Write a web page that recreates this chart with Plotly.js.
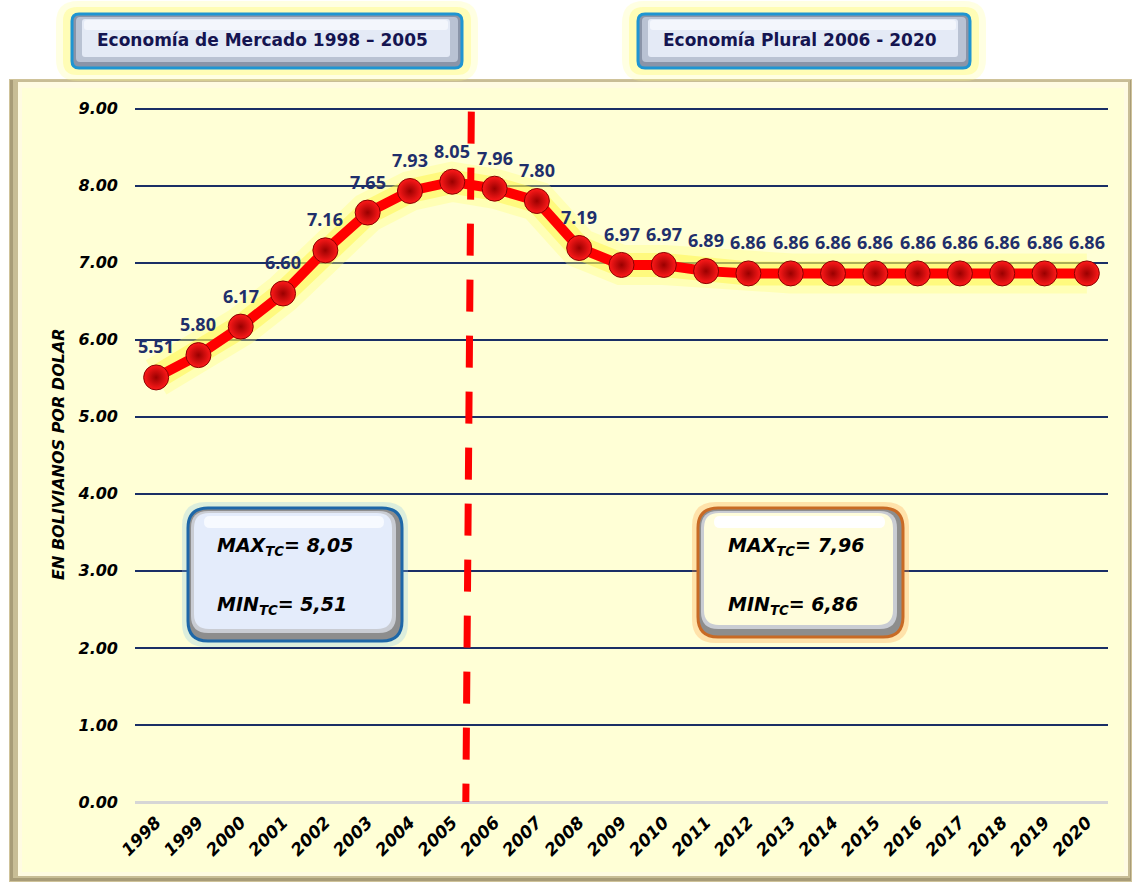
<!DOCTYPE html>
<html>
<head>
<meta charset="utf-8">
<script src="https://cdn.plot.ly/plotly-3.0.1.min.js"></script>
<style>html,body{margin:0;padding:0;background:#fff;}#chart{width:1134px;height:884px;}</style>
</head>
<body>
<div id="chart"></div>
<script>
// ---- data ----
const years = ['1998','1999','2000','2001','2002','2003','2004','2005','2006','2007','2008','2009','2010','2011','2012','2013','2014','2015','2016','2017','2018','2019','2020'];
const tipoCambio = [5.51,5.80,6.17,6.60,7.16,7.65,7.93,8.05,7.96,7.80,7.19,6.97,6.97,6.89,6.86,6.86,6.86,6.86,6.86,6.86,6.86,6.86,6.86];
const valueLabels = ['5.51','5.80','6.17','6.60','7.16','7.65','7.93','8.05','7.96','7.80','7.19','6.97','6.97','6.89','6.86','6.86','6.86','6.86','6.86','6.86','6.86','6.86','6.86'];
const yTicks = [0,1,2,3,4,5,6,7,8,9];
const yTickText = ['0.00','1.00','2.00','3.00','4.00','5.00','6.00','7.00','8.00','9.00'];
const periodTitles = ['Economía de Mercado 1998 – 2005','Economía Plural 2006 - 2020'];
const maxMinLeft = ['MAX<sub>TC</sub>= 8,05','MIN<sub>TC</sub>= 5,51'];
const maxMinRight = ['MAX<sub>TC</sub>= 7,96','MIN<sub>TC</sub>= 6,86'];
const yTitle = 'EN BOLIVIANOS POR DOLAR';

// ---- layout helpers (pixel -> paper) ----
const W=1134, H=884, L=135, R=1108, T=107, B=802;
const px = p => (p-L)/(R-L);
const py = p => (B-p)/(B-T);
function rr(x0,y0,x1,y1,r){
  const P=(x,y)=>px(x).toFixed(5)+','+py(y).toFixed(5);
  return 'M'+P(x0+r,y0)+' L'+P(x1-r,y0)+' Q'+P(x1,y0)+' '+P(x1,y0+r)+
    ' L'+P(x1,y1-r)+' Q'+P(x1,y1)+' '+P(x1-r,y1)+' L'+P(x0+r,y1)+
    ' Q'+P(x0,y1)+' '+P(x0,y1-r)+' L'+P(x0,y0+r)+' Q'+P(x0,y0)+' '+P(x0+r,y0)+' Z';
}
function pathShape(path, fill, lineColor, lineWidth, layer){
  return {type:'path', xref:'paper', yref:'paper', path:path, fillcolor:fill,
    line:{color:lineColor||'rgba(0,0,0,0)', width:lineWidth||0}, layer:layer||'above'};
}
function rectShape(x0,y0,x1,y1,fill,layer){
  return {type:'rect', xref:'paper', yref:'paper', x0:px(x0), x1:px(x1), y0:py(y1), y1:py(y0),
    fillcolor:fill, line:{color:'rgba(0,0,0,0)', width:0}, layer:layer||'below'};
}

const shapes = [];
// outer yellow panel with bevel
shapes.push(rectShape(9,79,1132,882,'#cfc39a'));
shapes.push(rectShape(10,80,1131,881,'#a89c78'));
shapes.push(rectShape(13,80,1130,878,'#c8bd96'));
shapes.push(rectShape(18,82,1128,876,'#fffbe2'));
shapes.push(rectShape(22,88,1124,872,'#ffffd6'));
// header buttons with glow
function header(x0,y0,x1,y1){
  shapes.push(pathShape(rr(x0-16,y0-13,x1+16,y1+13,22),'rgba(255,255,140,0.25)',null,0,'above'));
  shapes.push(pathShape(rr(x0-9,y0-7,x1+9,y1+7,14),'rgba(255,250,100,0.35)',null,0,'above'));
  shapes.push(pathShape(rr(x0,y0,x1,y1,7),'#8a94a8','#1f95d2',3,'above'));
  shapes.push(pathShape(rr(x0+4,y0+3,x1-4,y1-6,4),'#b9c2d3',null,0,'above'));
  shapes.push(pathShape(rr(x0+10,y0+5,x1-12,y1-11,3),'#e4eaf6',null,0,'above'));
  shapes.push(pathShape(rr(x0+12,y0+6,x1-14,y0+16,3),'#f3f6fc',null,0,'above'));
}
header(72,14,462,68);
header(638,14,970,68);
// MAX/MIN boxes
function mmBox(x0,y0,x1,y1,glow,border,fill,hi){
  shapes.push(pathShape(rr(x0-6,y0-6,x1+6,y1+6,24),glow,null,0,'above'));
  shapes.push(pathShape(rr(x0,y0,x1,y1,20),'#8d8d8d',border,3,'above'));
  shapes.push(pathShape(rr(x0+3,y0+3,x1-6,y1-8,17),'#c9ccd3',null,0,'above'));
  shapes.push(pathShape(rr(x0+6,y0+5,x1-10,y1-12,15),fill,null,0,'above'));
  shapes.push(pathShape(rr(x0+16,y0+8,x1-18,y0+20,6),hi,null,0,'above'));
}
mmBox(188,508,402,641,'rgba(140,200,235,0.3)','#1d67a8','#e4ecfb','#f7faff');
mmBox(698,508,903,637,'rgba(255,160,70,0.3)','#c86a25','#fffddc','#ffffff');
// dashed separator between 2005 and 2006
shapes.push({type:'line', xref:'x', yref:'y', x0:7.45, x1:7.32, y0:8.96, y1:0,
  line:{color:'#ff0000', width:7, dash:'32px,24px'}, layer:'above'});

const annotations = [];
// period titles
annotations.push({xref:'paper',yref:'paper',x:px(262),y:py(40),text:'<b>'+periodTitles[0]+'</b>',showarrow:false,
  font:{family:'DejaVu Sans',size:17,color:'#141450'},xanchor:'center',yanchor:'middle'});
annotations.push({xref:'paper',yref:'paper',x:px(800),y:py(40),text:'<b>'+periodTitles[1]+'</b>',showarrow:false,
  font:{family:'DejaVu Sans',size:17,color:'#141450'},xanchor:'center',yanchor:'middle'});
// y axis title
annotations.push({xref:'paper',yref:'paper',x:px(58),y:py(454),text:'<b><i>'+yTitle+'</i></b>',textangle:-90,showarrow:false,
  font:{family:'DejaVu Sans',size:16,color:'#000'},xanchor:'center',yanchor:'middle'});
// max/min texts
const mmFont = {family:'DejaVu Sans',size:19,color:'#000'};
annotations.push({xref:'paper',yref:'paper',x:px(215),y:py(546),text:'<b><i>'+maxMinLeft[0]+'</i></b>',showarrow:false,font:mmFont,xanchor:'left',yanchor:'middle'});
annotations.push({xref:'paper',yref:'paper',x:px(215),y:py(605),text:'<b><i>'+maxMinLeft[1]+'</i></b>',showarrow:false,font:mmFont,xanchor:'left',yanchor:'middle'});
annotations.push({xref:'paper',yref:'paper',x:px(726),y:py(546),text:'<b><i>'+maxMinRight[0]+'</i></b>',showarrow:false,font:mmFont,xanchor:'left',yanchor:'middle'});
annotations.push({xref:'paper',yref:'paper',x:px(726),y:py(605),text:'<b><i>'+maxMinRight[1]+'</i></b>',showarrow:false,font:mmFont,xanchor:'left',yanchor:'middle'});
// value labels (category index positions)
years.forEach((yr,i)=>{
  annotations.push({x:i, y:tipoCambio[i], xref:'x', yref:'y', text:'<b>'+valueLabels[i]+'</b>', showarrow:false,
    yshift:31, font:{family:'Noto Sans',size:18,color:'#1f2f6b'}, xanchor:'center', yanchor:'middle'});
});

const traces = [
  {x:years, y:tipoCambio, type:'scatter', mode:'lines', hoverinfo:'skip',
   line:{color:'rgba(255,255,120,0.35)', width:40}},
  {x:years, y:tipoCambio, type:'scatter', mode:'lines', hoverinfo:'skip',
   line:{color:'rgba(255,245,60,0.45)', width:24}},
  {x:years, y:tipoCambio, type:'scatter', mode:'lines+markers',
   line:{color:'#ff0000', width:10},
   marker:{size:25, color:'#ff1a1a', gradient:{type:'radial', color:'#9a0000'}, line:{color:'#8a0000', width:1}}}
];

const layout = {
  width:W, height:H, showlegend:false,
  paper_bgcolor:'#ffffff', plot_bgcolor:'rgba(0,0,0,0)',
  margin:{l:L, r:W-R, t:T, b:H-B},
  xaxis:{type:'category', range:[-0.5,22.5], showgrid:false, zeroline:false, showline:false, ticks:'',
    tickangle:-45, ticklabelstandoff:6,
    tickfont:{family:'DejaVu Sans', size:17, color:'#000', weight:'bold', style:'italic'}, fixedrange:true},
  yaxis:{range:[0,9.02], tickvals:yTicks, ticktext:yTickText, showgrid:true, gridcolor:'#1a2f66', gridwidth:2,
    zeroline:true, zerolinecolor:'#d6d6d6', zerolinewidth:3, showline:false, ticks:'', ticklabelstandoff:16,
    tickfont:{family:'DejaVu Sans', size:16, color:'#000', weight:'bold', style:'italic'}, fixedrange:true},
  shapes:shapes, annotations:annotations
};

Plotly.newPlot('chart', traces, layout, {displayModeBar:false, staticPlot:true});
</script>
</body>
</html>
